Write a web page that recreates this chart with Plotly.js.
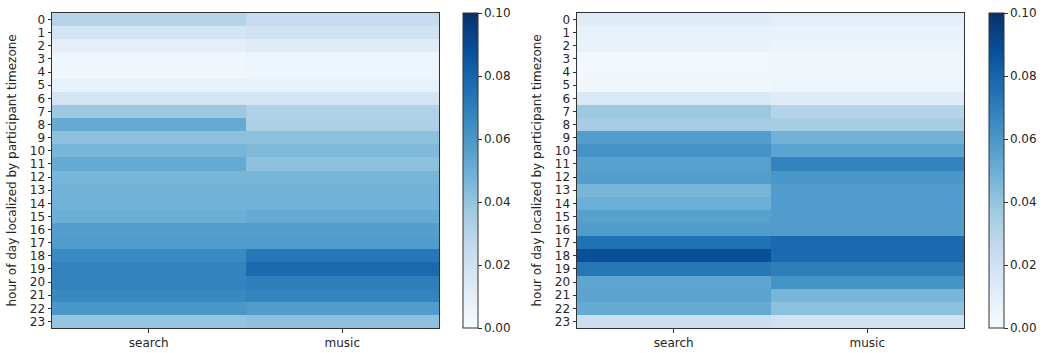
<!DOCTYPE html>
<html><head><meta charset="utf-8">
<script src="https://cdn.plot.ly/plotly-3.0.1.min.js"></script>
<style>html,body{margin:0;padding:0;background:#fff}</style>
</head><body><div id="chart" style="width:1050px;height:353px"></div>
<script>
const categories = ['search', 'music'];
const hours = [0,1,2,3,4,5,6,7,8,9,10,11,12,13,14,15,16,17,18,19,20,21,22,23];
const leftSearch = [0.030,0.018,0.010,0.004,0.004,0.008,0.018,0.038,0.052,0.042,0.047,0.052,0.047,0.048,0.048,0.050,0.057,0.058,0.065,0.068,0.068,0.066,0.060,0.040];
const leftMusic  = [0.025,0.020,0.012,0.005,0.005,0.008,0.018,0.032,0.033,0.042,0.045,0.042,0.047,0.048,0.048,0.052,0.057,0.058,0.073,0.078,0.070,0.068,0.058,0.042];
const rightSearch = [0.012,0.008,0.007,0.003,0.003,0.004,0.015,0.038,0.035,0.057,0.062,0.056,0.057,0.047,0.050,0.056,0.058,0.075,0.088,0.073,0.054,0.055,0.052,0.022];
const rightMusic  = [0.010,0.007,0.006,0.004,0.004,0.005,0.012,0.030,0.035,0.048,0.055,0.068,0.060,0.058,0.058,0.058,0.058,0.078,0.078,0.070,0.062,0.047,0.042,0.020];
const colorTicks = [0, 0.02, 0.04, 0.06, 0.08, 0.10];
const yTitle = 'hour of day localized by participant timezone';

const blues = [[0,'#f7fbff'],[0.125,'#deebf7'],[0.25,'#c6dbef'],[0.375,'#9ecae1'],[0.5,'#6baed6'],[0.625,'#4292c6'],[0.75,'#2171b5'],[0.875,'#08519c'],[1,'#08306b']];
const zOf = (a,b) => hours.map((h,i)=>[a[i], b[i]]);

const W = 1050, H = 353;
const font = {family: 'DejaVu Sans', size: 12, color: '#262626'};
const yTop = 1 - 13/H, yBot = 1 - 328/H;

function xax(l, r){ return {domain:[l/W, r/W], type:'category', showgrid:false, zeroline:false, ticks:'outside', ticklen:3.5, tickcolor:'#333', showline:true, mirror:true, linecolor:'#333', linewidth:1, tickfont:font, fixedrange:true}; }
function yax(){ return {domain:[yBot, yTop], autorange:'reversed', tickmode:'array', tickvals:hours, ticktext:hours.map(String), showgrid:false, zeroline:false, ticks:'outside', ticklen:3.5, tickcolor:'#333', showline:true, mirror:true, linecolor:'#333', linewidth:1, tickfont:font, automargin:false}; }
function cax(xpx){ return {cmin:0, cmax:0.1, colorscale:blues, colorbar:{x:xpx/W, xanchor:'left', xpad:0, ypad:0, y:yBot, yanchor:'bottom', len:yTop-yBot, lenmode:'fraction', thickness:15, outlinewidth:1, outlinecolor:'#333', ticks:'outside', ticklen:3.5, tickcolor:'#333', tickvals:colorTicks, tickformat:'.2f', tickfont:font}}; }
function ann(xpx){ return {text:yTitle, textangle:-90, xref:'paper', yref:'paper', x:xpx/W, y:(yTop+yBot)/2, xanchor:'center', yanchor:'middle', showarrow:false, font:font}; }

const xa1 = xax(52, 439); xa1.anchor='y';
const xa2 = xax(577, 964); xa2.anchor='y2';
const ya1 = yax(); ya1.anchor='x';
const ya2 = yax(); ya2.anchor='x2';

const data = [
  {type:'heatmap', x:categories, y:hours, z:zOf(leftSearch, leftMusic), coloraxis:'coloraxis', xaxis:'x', yaxis:'y'},
  {type:'heatmap', x:categories, y:hours, z:zOf(rightSearch, rightMusic), coloraxis:'coloraxis2', xaxis:'x2', yaxis:'y2'}
];
const layout = {
  width:W, height:H, margin:{l:0,r:0,t:0,b:0}, paper_bgcolor:'#fff', plot_bgcolor:'#fff', font:font, showlegend:false,
  xaxis:xa1, yaxis:ya1, xaxis2:xa2, yaxis2:ya2,
  coloraxis:cax(463), coloraxis2:cax(989),
  annotations:[ann(12), ann(537)]
};
Plotly.newPlot('chart', data, layout, {staticPlot:true, displayModeBar:false});
</script></body></html>
